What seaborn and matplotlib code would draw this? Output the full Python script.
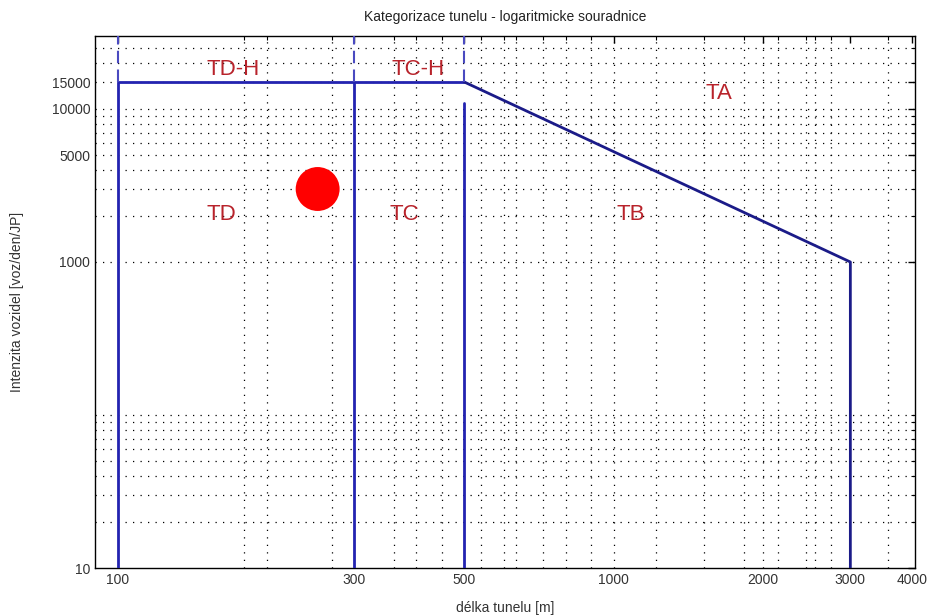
import numpy as np
import pandas as pd
import matplotlib
matplotlib.use("Agg")
import matplotlib.pyplot as plt
import seaborn as sns

# --- DATA ---
# category boundaries (tunnel length [m], traffic [veh/day/lane])
td_x = [100, 100, 500]
td_y = [10, 15000, 15000]
ta_x = [500, 3000, 3000]
ta_y = [15000, 1000, 10]
c300_x = [300, 300]
c300_y = [10, 15000]
c500_x = [500, 500]
c500_y = [10, 11000]
# dashed continuations above the 15000 level
dash_x = [100, 300, 500]
dash_top = 30000
dash_bottom = 15000

# zone labels
zone_names = ["TD-H", "TC-H", "TA", "TD", "TC", "TB"]
zone_x = [171, 403, 1630, 162, 379, 1081]
zone_y = [18000, 18000, 12700, 2030, 2030, 2030]

# evaluated tunnel
point_x = [253]
point_y = [3000]

# axes
x_ticks = [100, 300, 500, 1000, 2000, 3000, 4000]
x_grid = [180, 200, 270, 360, 400, 450, 540, 600, 635, 720, 800, 900,
          1000, 1215, 1520, 1830, 2000, 2140, 2440, 2550, 2740, 3570]
y_ticks = [10, 1000, 5000, 10000, 15000]
y_grid = [20, 30, 40, 50, 60, 70, 80, 90, 100, 1000, 2000, 3000, 4000,
          5000, 6000, 7000, 8000, 9000, 10000, 15000, 20000, 25000]

# --- STYLE ---
sns.set_style("white")
plt.rcParams['font.family'] = ['Liberation Sans', 'DejaVu Sans']

BLUE = "#2323b0"
NAVY = "#1b1b88"
DASH = "#4a4ac0"
RED_TXT = "#b8232b"

fig = plt.figure(figsize=(9.34, 6.16), dpi=100)
ax = fig.add_axes([95 / 934, 1 - 568 / 616, 820 / 934, 532 / 616])
ax.set_xscale("log")
ax.set_yscale("log")
ax.set_xlim(90, 4050)
ax.set_ylim(10, 30000)

# dotted grid
dot = (0, (1, 5))
for gx in x_grid:
    ax.axvline(gx, color="black", lw=0.9, ls=dot, zorder=1)
for gy in y_grid:
    ax.axhline(gy, color="black", lw=0.9, ls=dot, zorder=1)

# boundaries
for xs, ys, col in [(td_x, td_y, BLUE), (ta_x, ta_y, NAVY),
                    (c300_x, c300_y, BLUE), (c500_x, c500_y, BLUE)]:
    seg = pd.DataFrame({"x": xs, "y": ys})
    sns.lineplot(data=seg, x="x", y="y", sort=False, estimator=None,
                 color=col, lw=2.0, ax=ax, zorder=3)
for dx in dash_x:
    ax.plot([dx, dx], [dash_bottom, dash_top], color=DASH, lw=1.5,
            ls=(0, (6, 3)), zorder=3)

# point
pts = pd.DataFrame({"x": point_x, "y": point_y})
sns.scatterplot(data=pts, x="x", y="y", s=1000, color="red",
                edgecolor="none", ax=ax, zorder=4, legend=False)

for name, zx, zy in zip(zone_names, zone_x, zone_y):
    ax.text(zx, zy, name, color=RED_TXT, fontsize=16, ha="center",
            va="center", zorder=5)

# ticks
ax.set_xticks(x_ticks)
ax.set_xticklabels([str(v) for v in x_ticks])
ax.set_xticks(x_grid, minor=True)
ax.set_xticklabels([], minor=True)
ax.set_yticks(y_ticks)
ax.set_yticklabels([str(v) for v in y_ticks])
ax.set_yticks(y_grid, minor=True)
ax.set_yticklabels([], minor=True)
ax.tick_params(which="both", direction="in", top=True, right=True,
               labelsize=10, colors="black", labelcolor="#333333")
ax.tick_params(which="major", length=5, width=1)
ax.tick_params(which="minor", length=3, width=0.8)
for sp in ax.spines.values():
    sp.set_color("black")
    sp.set_linewidth(1.0)

ax.set_title("Kategorizace tunelu - logaritmicke souradnice", fontsize=10,
             color="#222222", pad=11)
ax.set_xlabel("délka tunelu [m]", fontsize=10, color="#333333", labelpad=10)
ax.set_ylabel("Intenzita vozidel [voz/den/JP]", fontsize=10,
              color="#333333", labelpad=20)

fig.savefig("out.png", dpi=100)
